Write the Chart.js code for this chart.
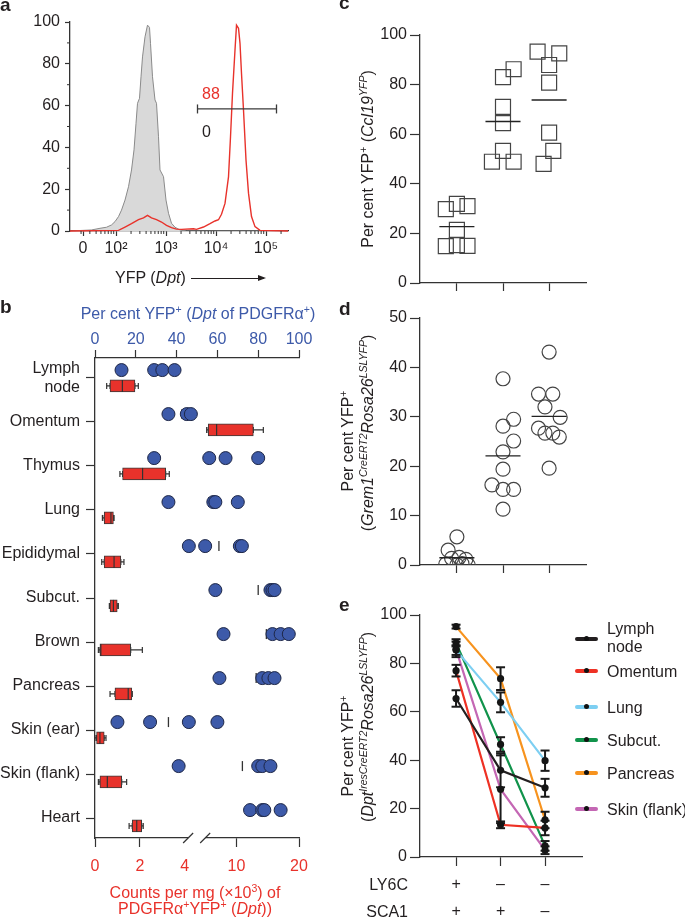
<!DOCTYPE html>
<html>
<head>
<meta charset="utf-8">
<script src="https://cdn.jsdelivr.net/npm/chart.js@4.4.0/dist/chart.umd.min.js"></script>
<style>
  html, body { margin: 0; padding: 0; background: #fff; }
  body { width: 685px; height: 919px; position: relative; overflow: hidden;
         font-family: "Liberation Sans", Arial, Helvetica, sans-serif; color: #231f20; }
  canvas { position: absolute; }
  .t { position: absolute; font-size: 16px; line-height: 16px; white-space: nowrap; }
  .lbl { position: absolute; font-weight: bold; font-size: 19px; line-height: 19px; }
  .rot { position: absolute; transform: translate(-50%, -50%) rotate(-90deg); font-size: 16px;
         line-height: 18px; white-space: nowrap; }
  sup { font-size: 10.5px; line-height: 0; vertical-align: 6px; }
  .arrow { display: inline-block; position: relative; width: 73px; height: 1.3px; background: #231f20;
           vertical-align: middle; margin-left: 5px; }
  .arrow::after { content: ''; position: absolute; right: -2px; top: -3px; border-left: 8px solid #231f20;
                  border-top: 3.6px solid transparent; border-bottom: 3.6px solid transparent; }
  .sw { position: absolute; width: 23px; height: 4.5px; border-radius: 2.5px; }
  .sw::after { content: ''; position: absolute; left: 9px; top: -0.3px; width: 5px; height: 5px;
               border-radius: 50%; background: #111; }
</style>
</head>
<body>
<canvas id="chartA" width="300" height="290" style="left:0;top:0"></canvas>
<canvas id="chartB" width="340" height="629" style="left:0;top:290px"></canvas>
<canvas id="chartC" width="345" height="300" style="left:340px;top:0"></canvas>
<canvas id="chartD" width="345" height="280" style="left:340px;top:300px"></canvas>
<canvas id="chartE" width="345" height="350" style="left:340px;top:580px"></canvas>

<div class="lbl" style="left:0;top:-5px">a</div>
<div class="lbl" style="left:0;top:297px">b</div>
<div class="lbl" style="left:339px;top:-7px">c</div>
<div class="lbl" style="left:339px;top:299px">d</div>
<div class="lbl" style="left:339px;top:595px">e</div>

<!-- panel a texts -->
<div class="t" style="left:202px;top:86px;color:#e8322b">88</div>
<div class="t" style="left:202px;top:124px">0</div>
<div class="t" style="left:115px;top:270px">YFP (<i>Dpt</i>)<span class="arrow"></span></div>

<!-- panel b texts -->
<div class="t" style="left:198px;top:306px;transform:translateX(-50%);color:#3d5aa9">Per cent YFP<sup>+</sup> (<i>Dpt</i> of PDGFRα<sup>+</sup>)</div>
<div class="t" style="left:195px;top:885px;transform:translateX(-50%);color:#e8322b">Counts per mg (×10<sup>3</sup>) of</div>
<div class="t" style="left:195px;top:901px;transform:translateX(-50%);color:#e8322b">PDGFRα<sup>+</sup>YFP<sup>+</sup> (<i>Dpt</i>))</div>

<!-- axis titles c, d, e -->
<div class="rot" style="left:368px;top:159px">Per cent YFP<sup>+</sup> (<i>Ccl19</i><sup><i>YFP</i></sup>)</div>
<div class="rot" style="left:348px;top:441px">Per cent YFP<sup>+</sup></div>
<div class="rot" style="left:368px;top:433px">(<i>Grem1</i><sup><i>CreERT2</i></sup><i>Rosa26</i><sup><i>LSLYFP</i></sup>)</div>
<div class="rot" style="left:348px;top:746px">Per cent YFP<sup>+</sup></div>
<div class="rot" style="left:368px;top:727px">(<i>Dpt</i><sup><i>IresCreERT2</i></sup><i>Rosa26</i><sup><i>LSLYFP</i></sup>)</div>

<div class="t" style="left:340px;width:68px;text-align:right;top:877px">LY6C</div>
<div class="t" style="left:340px;width:68px;text-align:right;top:904px">SCA1</div>
<div id="legendE"></div>

<script>
// ---- a: flow histogram (x in log10 display units of YFP intensity, y = % of max) ----
const histTicks = [1.34, 2, 3, 4, 5];
const histTickLabels = ['0', '10²', '10³', '10⁴', '10⁵'];
const controlLogYfp = [1.08, 1.51, 1.68, 1.81, 1.91, 1.98, 2.05, 2.11, 2.18, 2.25, 2.31, 2.36, 2.40, 2.43, 2.47, 2.50, 2.53, 2.58, 2.63, 2.67, 2.69, 2.73, 2.78, 2.81, 2.85, 2.88, 2.95, 3.00, 3.05, 3.11, 3.18, 3.28, 3.41, 5.44];
const controlPct = [0, 0.5, 1.3, 1.8, 2.9, 4.5, 6.9, 10, 14.8, 21.2, 29.2, 38.8, 51.5, 61.1, 63.5, 73.8, 83.3, 92.9, 98.5, 97.4, 89.8, 73.8, 62.7, 61.1, 45.1, 29.2, 26, 14.8, 8.5, 3.7, 1.8, 0.5, 0, 0];
const dptLogYfp = [1.08, 2.05, 2.18, 2.31, 2.45, 2.55, 2.63, 2.71, 2.81, 2.91, 3.01, 3.11, 3.21, 3.31, 3.55, 3.61, 3.75, 3.88, 3.98, 4.05, 4.11, 4.18, 4.25, 4.29, 4.33, 4.38, 4.41, 4.45, 4.48, 4.51, 4.55, 4.60, 4.65, 4.71, 4.78, 4.88, 5.44];
const dptPct = [0, 0.3, 1.9, 3.5, 5.4, 6.3, 7.5, 6.3, 5.4, 4.3, 2.7, 1.6, 0.9, 0.8, 1.1, 0.8, 1.9, 3.5, 4.8, 5.4, 8.0, 13.2, 25.9, 45, 65.9, 86.6, 98.5, 97, 89.8, 75.4, 57.9, 34, 18.1, 6.9, 2.1, 0.3, 0];
const gateLogYfp = [3.63, 5.21];
const gatePct = 58.4;

// ---- b: per-tissue labelling ----
const tissues = ['Lymph node', 'Omentum', 'Thymus', 'Lung', 'Epididymal', 'Subcut.', 'Brown', 'Pancreas', 'Skin (ear)', 'Skin (flank)', 'Heart'];
const pctDpt = [
  [13, 29, 33, 39],
  [36, 45, 47],
  [29, 56, 64, 80],
  [36, 58, 59, 70],
  [46, 54, 71, 72],
  [59, 86, 87, 88],
  [63, 87, 91, 95],
  [61, 82, 85, 88],
  [11, 27, 46, 60],
  [41, 80, 82, 86],
  [76, 82, 83, 91]
];
const countMin = [0.52, 5.24, 1.11, 0.33, 0.30, 0.64, 0.15, 0.67, 0.00, 0.15, 1.52];
const countQ1  = [0.67, 5.49, 1.23, 0.41, 0.41, 0.67, 0.22, 0.89, 0.07, 0.22, 1.66];
const countMed = [1.22, 6.83, 2.12, 0.71, 0.85, 0.82, 0.26, 1.48, 0.22, 0.55, 1.86];
const countQ3  = [1.78, 12.7, 3.15, 0.82, 1.15, 0.99, 1.59, 1.64, 0.41, 1.19, 2.08];
const countMax = [1.93, 14.3, 3.31, 0.85, 1.29, 1.04, 2.11, 1.66, 0.49, 1.41, 2.15];
const countTicks = [0, 2, 4, 10, 20];

// ---- c: Ccl19-YFP, three populations ----
const ccl19Pct = [
  [29.8, 31.9, 31.0, 21.4, 14.9, 15.3, 15.0],
  [83.0, 86.2, 71.0, 64.5, 53.3, 48.9, 48.9],
  [93.3, 92.6, 87.9, 80.8, 60.6, 53.3, 48.0]
];
const ccl19Jitter = [
  [-0.24, 0, 0.23, 0, -0.24, 0, 0.23],
  [0, 0.23, 0, 0, 0, -0.24, 0.23],
  [-0.25, 0.22, 0, 0, 0, 0.09, -0.12]
];

// ---- d: Grem1 lineage ----
const grem1Pct = [
  [5.7, 3.0, 1.35, 1.55, 1.15, 0.2, 0, 0, 0.3],
  [37.7, 28.1, 29.5, 25.1, 22.9, 19.4, 16.2, 15.3, 15.3, 11.3],
  [43.1, 34.6, 34.6, 32.0, 29.9, 27.7, 26.7, 26.7, 25.9, 19.6]
];
const grem1Jitter = [
  [0, -0.19, -0.115, 0.05, 0.195, -0.24, 0, 0.245, 0.11],
  [0, 0, 0.23, 0.23, 0, 0, -0.24, 0, 0.23, 0],
  [0, -0.23, 0.08, -0.09, 0.24, -0.23, -0.09, 0.08, 0.22, 0]
];

// ---- e: Dpt lineage by LY6C/SCA1 subset ----
const subsetLabels = [['+', '+'], ['–', '+'], ['–', '–']];
const dptTissues = ['Lymph node', 'Omentum', 'Lung', 'Subcut.', 'Pancreas', 'Skin (flank)'];
const dptTissueColors = ['#231f20', '#ee3124', '#7dcff2', '#11934b', '#f7931e', '#c467b4'];
const subsetPct = [
  [65.5, 35.8, 28.6],
  [77.0, 13.3, 12.0],
  [85.5, 63.9, 39.8],
  [88.5, 46.5, 4.6],
  [95.2, 73.7, 15.3],
  [85.8, 28.0, 2.8]
];
const subsetSem = [
  [3.4, 7.0, 3.7],
  [2.4, 1.4, 3.0],
  [2.0, 4.1, 4.2],
  [1.5, 3.0, 2.0],
  [0.8, 4.7, 3.4],
  [3.2, 14.0, 1.6]
];

const INK = '#231f20';
const AXIS = '#333333';
const BLUE = '#3d5aa9';
const RED = '#e8322b';
const GAP = { x: NaN, y: NaN };   // breaks a line dataset into segments

Chart.defaults.font.family = '"Liberation Sans", Arial, Helvetica, sans-serif';
Chart.defaults.font.size = 16;
Chart.defaults.color = INK;
Chart.defaults.animation = false;
Chart.defaults.plugins.legend.display = false;
Chart.defaults.plugins.tooltip.enabled = false;

function mean(a) { return a.reduce((s, v) => s + v, 0) / a.length; }
function toPoints(xs, ys) { return xs.map((x, i) => ({ x: x, y: ys[i] })); }
const fixWidth = w => scale => { scale.width = w; };
const fixHeight = h => scale => { scale.height = h; };

function axisStyle(tickLength) {
  return {
    offset: false,
    grid: { display: true, drawOnChartArea: false, offset: false, tickLength: tickLength, color: AXIS, tickWidth: 1.2 },
    border: { display: true, color: AXIS, width: 1.3 }
  };
}

// short ticks that Chart.js has no option for
const minorTickPlugin = {
  id: 'minorTicks',
  afterDraw(chart, args, opts) {
    const { ctx, scales } = chart;
    ctx.save();
    ctx.strokeStyle = AXIS;
    ctx.lineWidth = 1;
    ctx.beginPath();
    (opts.x || []).forEach(v => {
      const p = scales.x.getPixelForValue(v);
      ctx.moveTo(p, scales.x.top);
      ctx.lineTo(p, scales.x.top + opts.len);
    });
    (opts.y || []).forEach(v => {
      const p = scales.y.getPixelForValue(v);
      ctx.moveTo(scales.y.right, p);
      ctx.lineTo(scales.y.right - opts.len, p);
    });
    ctx.stroke();
    ctx.restore();
  }
};

// ===== panel a =====
const histMinor = [];
[1, 2, 3, 4].forEach(k => [2, 3, 4, 5, 6, 7, 8, 9].forEach(m => histMinor.push(k + Math.log10(m))));
histMinor.push(5 + Math.log10(2));

new Chart(document.getElementById('chartA'), {
  type: 'line',
  data: {
    datasets: [
      {
        data: toPoints(gateLogYfp, [gatePct, gatePct]),
        borderColor: '#3a3a3a', borderWidth: 1.3,
        pointStyle: 'line', pointRotation: 90, pointRadius: 4.5,
        pointBorderColor: '#3a3a3a', pointBorderWidth: 1.3, order: 1
      },
      {
        data: toPoints(dptLogYfp, dptPct),
        borderColor: RED, borderWidth: 1.4, pointRadius: 0, fill: false, clip: 3, order: 2
      },
      {
        data: toPoints(controlLogYfp, controlPct),
        borderColor: '#8a8a8a', borderWidth: 1, backgroundColor: '#d9d9d9',
        fill: 'origin', pointRadius: 0, order: 3
      }
    ]
  },
  options: {
    responsive: false,
    devicePixelRatio: 1,
    layout: { autoPadding: false, padding: { left: 0, top: 22, right: 12, bottom: 27 } },
    plugins: { minorTicks: { x: histMinor, y: [10, 30, 50, 70, 90], len: 3 } },
    scales: {
      x: {
        type: 'linear', min: 1.08, max: 5.44, ...axisStyle(5),
        afterBuildTicks: s => { s.ticks = histTicks.map(v => ({ value: v })); },
        ticks: { padding: 3, maxRotation: 0, autoSkip: false, callback: (v, i) => histTickLabels[i] },
        afterFit: fixHeight(32)
      },
      y: {
        type: 'linear', min: 0, max: 100, ...axisStyle(5),
        ticks: { stepSize: 20, padding: 5 },
        afterFit: fixWidth(70)
      }
    }
  },
  plugins: [minorTickPlugin]
});

// ===== panel b =====
// broken count axis: 0-4 on the left part, 5-20 after the break
function countToAxis(v) { return v <= 4.5 ? v * 11 : 54 + (v - 5) * 46 / 15; }
const tissueTickLabels = tissues.map(t => t === 'Lymph node' ? ['Lymph', 'node'] : t);
const dotRow = i => i - 0.18;
const boxRow = i => i + 0.18;

const whiskerPts = [];
tissues.forEach((t, i) => {
  const y = boxRow(i);
  whiskerPts.push({ x: countToAxis(countMin[i]), y: y }, { x: countToAxis(countQ1[i]), y: y }, GAP,
                  { x: countToAxis(countQ3[i]), y: y }, { x: countToAxis(countMax[i]), y: y }, GAP);
});

const axisBreakPlugin = {
  id: 'axisBreak',
  afterDraw(chart) {
    const s = chart.scales.xc, ctx = chart.ctx;
    const a = s.getPixelForValue(countToAxis(4.15));
    const b = s.getPixelForValue(countToAxis(5));
    const y = s.top;
    ctx.save();
    ctx.fillStyle = '#fff';
    ctx.fillRect(a, y - 3, b - a, 6);
    ctx.strokeStyle = AXIS;
    ctx.lineWidth = 1.2;
    [a, b].forEach(x => {
      ctx.beginPath();
      ctx.moveTo(x - 5, y + 5);
      ctx.lineTo(x + 5, y - 5);
      ctx.stroke();
    });
    ctx.restore();
  }
};

new Chart(document.getElementById('chartB'), {
  type: 'scatter',
  data: {
    datasets: [
      {
        type: 'scatter', xAxisID: 'xc', yAxisID: 'y',
        data: tissues.map((t, i) => ({ x: countToAxis(countMed[i]), y: boxRow(i) })),
        pointStyle: 'line', pointRotation: 90, pointRadius: 6,
        pointBorderColor: '#333', pointBorderWidth: 1.2, order: 1
      },
      {
        type: 'bar', indexAxis: 'y', xAxisID: 'xc', yAxisID: 'y', grouped: false,
        data: tissues.map((t, i) => ({ x: [countToAxis(countQ1[i]), countToAxis(countQ3[i])], y: boxRow(i) })),
        backgroundColor: RED, borderColor: '#3a3a3a', borderWidth: 1, borderSkipped: false,
        barThickness: 12, order: 2
      },
      {
        type: 'line', xAxisID: 'xc', yAxisID: 'y', data: whiskerPts, spanGaps: false,
        borderColor: '#333', borderWidth: 1.2,
        pointStyle: 'line', pointRotation: 90, pointRadius: 3,
        pointBorderColor: '#333', pointBorderWidth: 1.2, order: 3
      },
      {
        type: 'scatter', xAxisID: 'xp', yAxisID: 'y',
        data: pctDpt.flatMap((vals, i) => vals.map(v => ({ x: v, y: dotRow(i) }))),
        pointRadius: 6.5, pointBackgroundColor: BLUE, pointBorderColor: '#1e2747',
        pointBorderWidth: 1, order: 4
      },
      {
        type: 'scatter', xAxisID: 'xp', yAxisID: 'y',
        data: pctDpt.map((vals, i) => ({ x: mean(vals), y: dotRow(i) })),
        pointStyle: 'line', pointRotation: 90, pointRadius: 5,
        pointBorderColor: '#333', pointBorderWidth: 1.3, order: 5
      }
    ]
  },
  options: {
    responsive: false,
    devicePixelRatio: 1,
    layout: { autoPadding: false, padding: { left: 0, top: 40, right: 41, bottom: 39 } },
    scales: {
      y: {
        type: 'linear', axis: 'y', reverse: true, min: -0.4545, max: 10.4545, ...axisStyle(9),
        afterBuildTicks: s => { s.ticks = tissues.map((t, i) => ({ value: i })); },
        ticks: { padding: 6, autoSkip: false, font: { lineHeight: 1.15 }, callback: (v, i) => tissueTickLabels[i] },
        afterFit: fixWidth(95)
      },
      xp: {
        type: 'linear', axis: 'x', position: 'top', min: 0, max: 100, ...axisStyle(8),
        ticks: { stepSize: 20, color: BLUE, padding: 1, maxRotation: 0 },
        afterFit: fixHeight(28)
      },
      xc: {
        type: 'linear', axis: 'x', position: 'bottom', min: 0, max: 100, ...axisStyle(9),
        grid: {
          display: true, drawOnChartArea: false, offset: false, tickLength: 9, tickWidth: 1.2,
          color: AXIS,
          tickColor: c => (c.tick && c.tick.value === countToAxis(4)) ? 'rgba(0,0,0,0)' : AXIS
        },
        afterBuildTicks: s => { s.ticks = countTicks.map(v => ({ value: countToAxis(v) })); },
        ticks: { color: RED, padding: 10, autoSkip: false, maxRotation: 0, callback: (v, i) => String(countTicks[i]) },
        afterFit: fixHeight(42)
      }
    }
  },
  plugins: [axisBreakPlugin]
});

// ===== panels c and d: jittered groups with mean bars =====
function groupPoints(values, jitter) {
  return values.flatMap((vals, g) => vals.map((v, k) => ({ x: g + 1 + jitter[g][k], y: v })));
}
function meanBars(values, half) {
  return values.flatMap((vals, g) => {
    const m = mean(vals);
    return [{ x: g + 1 - half, y: m }, { x: g + 1 + half, y: m }, GAP];
  });
}
function groupChart(id, values, jitter, marker, yMax, yStep, topPad, bottomPad) {
  return new Chart(document.getElementById(id), {
    type: 'scatter',
    data: {
      datasets: [
        {
          type: 'line', data: meanBars(values, 0.38), spanGaps: false,
          borderColor: '#222', borderWidth: 1.3, pointRadius: 0, order: 1
        },
        {
          type: 'scatter', data: groupPoints(values, jitter),
          pointStyle: marker.style, pointRadius: marker.radius,
          pointBackgroundColor: 'rgba(0,0,0,0)', pointBorderColor: '#444', pointBorderWidth: 1.2, order: 2
        }
      ]
    },
    options: {
      responsive: false,
      devicePixelRatio: 1,
      layout: { autoPadding: false, padding: { left: 0, top: topPad, right: 99, bottom: bottomPad } },
      scales: {
        x: {
          type: 'linear', min: 0.2, max: 3.8, ...axisStyle(8),
          afterBuildTicks: s => { s.ticks = values.map((v, g) => ({ value: g + 1 })); },
          ticks: { display: false },
          afterFit: fixHeight(12)
        },
        y: {
          type: 'linear', min: 0, max: yMax, ...axisStyle(10),
          ticks: { stepSize: yStep, padding: 3 },
          afterFit: fixWidth(80)
        }
      }
    }
  });
}
groupChart('chartC', ccl19Pct, ccl19Jitter, { style: 'rect', radius: 10.6 }, 100, 20, 35, 5);
groupChart('chartD', grem1Pct, grem1Jitter, { style: 'circle', radius: 7 }, 50, 10, 18, 3);

// ===== panel e =====
const semPts = [];
const allDots = [];
subsetPct.forEach((vals, s) => vals.forEach((v, g) => {
  semPts.push({ x: g + 1, y: v - subsetSem[s][g] }, { x: g + 1, y: v + subsetSem[s][g] }, GAP);
  allDots.push({ x: g + 1, y: v });
}));

new Chart(document.getElementById('chartE'), {
  type: 'line',
  data: {
    datasets: [
      {
        type: 'scatter', data: allDots, pointRadius: 3.6,
        pointBackgroundColor: '#151515', pointBorderWidth: 0, order: 1
      },
      {
        type: 'line', data: semPts, spanGaps: false,
        borderColor: '#1a1a1a', borderWidth: 2,
        pointStyle: 'line', pointRadius: 4.5, pointBorderColor: '#1a1a1a', pointBorderWidth: 2, order: 2
      }
    ].concat(dptTissues.map((t, s) => ({
      type: 'line', label: t,
      data: subsetPct[s].map((v, g) => ({ x: g + 1, y: v })),
      borderColor: dptTissueColors[s], borderWidth: 2.2, pointRadius: 0, order: 3 + s
    })))
  },
  options: {
    responsive: false,
    devicePixelRatio: 1,
    layout: { autoPadding: false, padding: { left: 0, top: 35, right: 103, bottom: 0 } },
    scales: {
      x: {
        type: 'linear', min: 0.19, max: 3.83, ...axisStyle(9),
        afterBuildTicks: s => { s.ticks = subsetLabels.map((l, g) => ({ value: g + 1 })); },
        ticks: { padding: 5, autoSkip: false, maxRotation: 0, font: { lineHeight: 1.69 },
                 callback: (v, i) => subsetLabels[i] },
        afterFit: fixHeight(73)
      },
      y: {
        type: 'linear', min: 0, max: 100, ...axisStyle(10),
        ticks: { stepSize: 20, padding: 3 },
        afterFit: fixWidth(80)
      }
    }
  }
});

// legend for panel e
const legendTop = [639, 671, 707, 740, 773, 809];
const legendBox = document.getElementById('legendE');
dptTissues.forEach((t, s) => {
  const sw = document.createElement('div');
  sw.className = 'sw';
  sw.style.left = '575px';
  sw.style.top = (legendTop[s] - 2.25) + 'px';
  sw.style.background = dptTissueColors[s];
  legendBox.appendChild(sw);
  const txt = document.createElement('div');
  txt.className = 't';
  txt.style.left = '607px';
  txt.style.lineHeight = '18px';
  if (t === 'Lymph node') {
    txt.innerHTML = 'Lymph<br>node';
    txt.style.top = (legendTop[s] - 19) + 'px';
  } else {
    txt.textContent = t;
    txt.style.top = (legendTop[s] - 8) + 'px';
  }
  legendBox.appendChild(txt);
});
</script>
</body>
</html>
